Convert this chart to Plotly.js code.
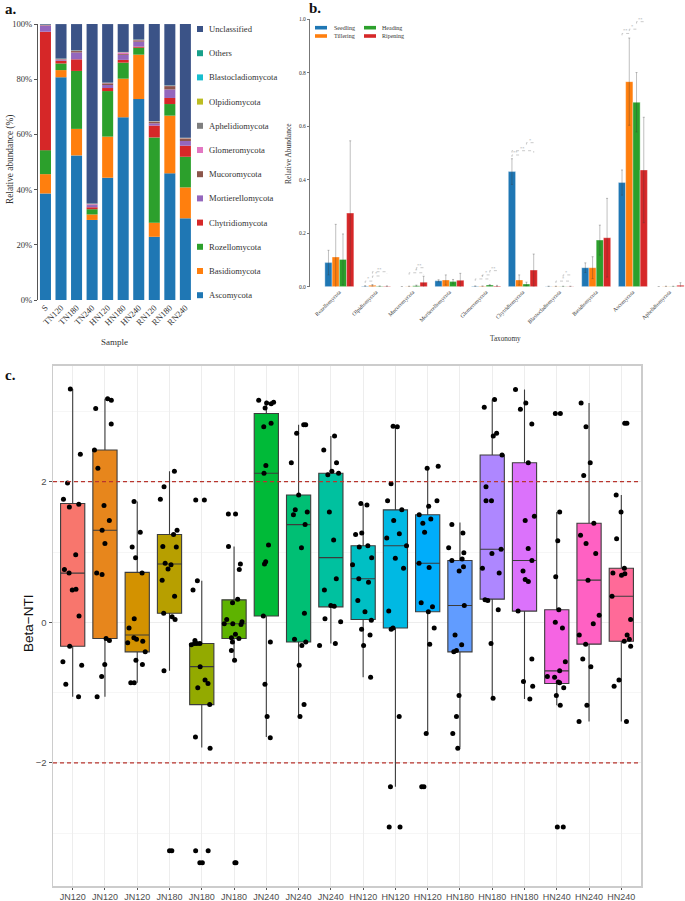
<!DOCTYPE html>
<html><head><meta charset="utf-8">
<script src="https://cdn.plot.ly/plotly-3.0.1.min.js"></script>
<style>html,body{margin:0;padding:0;background:#fff}#chart{width:685px;height:901px}</style>
</head><body><div id="chart"></div>
<script>
// ---------- Panel a: relative abundance (%) ----------
const samples = ['S','TN120','TN180','TN240','HN120','HN180','HN240','RN120','RN180','RN240'];
const phyla = ['Ascomycota','Basidiomycota','Rozellomycota','Chytridiomycota','Mortierellomycota','Mucoromycota','Glomeromycota','Aphelidiomycota','Olpidiomycota','Blastocladiomycota','Others','Unclassified'];
const ascomycota        = [38.6,80.7,52.4,29.0,44.3,66.2,72.8,22.9,45.9,29.6];
const basidiomycota     = [7.0,2.6,9.6,2.0,14.9,14.0,16.1,5.1,20.9,11.2];
const rozellomycota     = [8.7,2.4,21.0,1.9,16.5,5.8,2.5,30.9,4.2,11.1];
const chytridiomycota   = [42.9,1.0,4.2,0.7,1.1,1.0,0.4,4.3,2.2,4.0];
const mortierellomycota = [2.1,0.3,2.5,0.8,1.1,1.8,1.8,0.8,3.1,1.7];
const mucoromycota      = [0.2,0.2,0.5,0.2,0.6,0.3,0.5,0.6,1.2,0.9];
const glomeromycota     = [0.1,0.1,0.1,0.2,0.1,0.6,0.1,0.1,0.1,0.1];
const aphelidiomycota   = [0.05,0.05,0.05,0.05,0.05,0.05,0.05,0.05,0.05,0.05];
const olpidiomycota     = [0.05,0.05,0.05,0.05,0.05,0.05,0.05,0.05,0.05,0.05];
const blastocladiomycota= [0.02,0.02,0.02,0.02,0.02,0.02,0.02,0.02,0.02,0.02];
const others            = [0.05,0.05,0.05,0.05,0.05,0.05,0.05,0.05,0.05,0.05];
const unclassified      = [0.3,12.5,9.5,65.0,21.2,10.1,5.6,35.1,22.2,41.2];
const pctTicks = [0,20,40,60,80,100];
const pctTickText = ['0%','20%','40%','60%','80%','100%'];

// ---------- Panel b: relative abundance by stage ----------
const taxa = ['Rozellomycota','Olpidiomycota','Mucoromycota','Mortierellomycota','Glomeromycota','Chytridiomycota','Blastocladiomycota','Basidiomycota','Ascomycota','Aphelidiomycota'];
const stages = ['Seedling','Tillering','Heading','Ripening'];
const seedling    = [0.090,0.002,0.000,0.022,0.002,0.430,0.001,0.071,0.389,0.000];
const seedlingSd  = [0.046,0.002,0.000,0.004,0.001,0.048,0.001,0.018,0.047,0.000];
const tillering   = [0.111,0.005,0.001,0.025,0.002,0.025,0.001,0.071,0.766,0.001];
const tilleringSd = [0.122,0.003,0.001,0.019,0.001,0.019,0.001,0.041,0.163,0.001];
const heading     = [0.102,0.002,0.004,0.019,0.006,0.010,0.001,0.174,0.689,0.001];
const headingSd   = [0.095,0.001,0.002,0.008,0.002,0.007,0.001,0.056,0.111,0.001];
const ripening    = [0.275,0.002,0.017,0.024,0.003,0.062,0.001,0.183,0.436,0.005];
const ripeningSd  = [0.270,0.001,0.022,0.026,0.002,0.060,0.001,0.147,0.197,0.010];
// significance brackets (taxon index, from stage, to stage, height, label)
const sigTaxon = [1,1,1,2,2,4,4,4,5,5,5,6,6,8,8,8];
const sigFrom  = [0,1,1,1,2,0,1,2,0,0,2,1,2,0,1,2];
const sigTo    = [1,2,3,3,3,2,2,3,1,3,3,3,3,1,2,3];
const sigY     = [0.021,0.040,0.056,0.052,0.071,0.029,0.044,0.060,0.492,0.508,0.538,0.021,0.044,0.946,0.962,0.990];
const sigLabel = ['*','*','**','*','**','*','*','**','**','**','*','*','*','**','*','**'];

// ---------- Panel c: Beta-NTI ----------
const groupLabels = ['JN120','JN120','JN120','JN180','JN180','JN180','JN240','JN240','JN240','HN120','HN120','HN120','HN180','HN180','HN180','HN240','HN240','HN240'];
const q1Vals      = [-0.34,-0.23,-0.42,0.13,-1.17,-0.23,0.09,-0.28,0.22,0.04,-0.08,0.15,-0.42,0.33,0.16,-0.87,-0.31,-0.27];
const medianVals  = [0.70,1.31,-0.18,0.83,-0.63,-0.02,2.12,1.39,0.92,0.62,1.09,0.84,0.24,1.04,0.88,-0.69,0.60,0.37];
const q3Vals      = [1.69,2.45,0.71,1.25,-0.30,0.32,2.97,1.81,2.12,1.09,1.60,1.53,0.88,2.38,2.27,0.18,1.41,0.77];
const lowerWhisk  = [-1.06,-1.06,-0.86,-0.69,-1.78,-0.54,-1.63,-1.34,-0.30,-0.78,-2.34,-1.58,-1.78,-1.08,-1.09,-1.18,-1.41,-1.41];
const upperWhisk  = [3.32,3.18,1.72,2.15,0.59,1.08,3.15,2.81,2.65,1.68,2.78,2.21,1.42,3.17,3.31,1.57,3.12,1.81];
const bnti01 = [3.32,2.39,1.98,1.75,1.68,1.64,0.96,0.75,0.70,0.47,0.46,0.09,-0.34,-0.56,-0.61,-0.88,-1.06];
const bnti02 = [3.18,3.16,3.04,2.82,2.45,2.19,1.66,1.45,1.31,1.12,0.70,0.68,-0.23,-0.26,-0.60,-0.77,-1.06];
const bnti03 = [1.72,1.28,1.07,0.92,0.70,0.05,-0.08,-0.22,-0.24,-0.27,-0.29,-0.42,-0.54,-0.60,-0.86,-0.86];
const bnti04 = [2.15,1.93,1.75,1.31,1.25,1.08,1.07,0.84,0.82,0.76,0.60,0.37,0.13,0.08,0.04,-0.69,-3.25,-3.25];
const bnti05 = [1.74,1.74,0.59,0.46,-0.26,-0.30,-0.30,-0.30,-0.32,-0.63,-0.82,-0.87,-0.93,-1.17,-1.63,-1.79,-3.25,-3.25,-3.42,-3.42];
const bnti06 = [1.54,1.54,1.08,0.83,0.75,0.33,0.28,0.04,0.01,-0.02,-0.02,-0.03,-0.17,-0.22,-0.23,-0.28,-0.40,-0.54,-3.42,-3.42];
const bnti07 = [3.16,3.13,3.12,3.11,3.05,2.83,2.78,2.23,2.12,1.10,0.86,0.83,0.09,-0.28,-0.88,-1.34,-1.64];
const bnti08 = [2.81,2.81,2.69,2.27,1.81,1.60,1.57,1.53,1.39,1.06,0.13,-0.24,-0.28,-0.33,-0.61,-1.17,-1.34];
const bnti09 = [2.65,2.45,2.27,2.15,2.12,2.10,1.57,1.17,0.62,0.46,0.24,0.23,0.05,0.01,-0.30,-0.33];
const bnti10 = [1.69,1.67,1.27,1.25,1.09,1.07,0.92,0.82,0.62,0.57,0.31,0.15,0.03,-0.10,-0.18,-0.33,-0.78];
const bnti11 = [2.79,2.78,1.97,1.73,1.60,1.45,1.26,1.20,1.09,0.91,0.77,0.16,-0.08,-0.10,-1.34,-2.34,-2.91,-2.91];
const bnti12 = [2.22,2.19,1.73,1.65,1.53,1.47,1.41,1.28,0.84,0.78,0.28,0.22,0.15,-0.08,-0.31,-1.58,-2.34,-2.34];
const bnti13 = [1.39,1.27,1.06,0.99,0.90,0.88,0.79,0.73,0.24,-0.18,-0.32,-0.40,-0.42,-1.04,-1.34,-1.58,-1.79];
const bnti14 = [3.17,3.06,2.69,2.65,2.38,1.93,1.73,1.73,1.04,0.98,0.77,0.70,0.32,0.31,0.18,-0.30,-1.08];
const bnti15 = [3.31,3.12,3.03,2.82,2.27,1.51,1.45,1.05,0.88,0.73,0.61,0.58,0.16,-0.52,-0.84,-0.91,-1.09];
const bnti16 = [2.97,2.97,1.57,1.16,0.65,0.18,0.00,-0.08,-0.56,-0.69,-0.77,-0.78,-0.85,-0.86,-0.93,-1.04,-1.18,-2.91,-2.91];
const bnti17 = [3.12,2.78,2.27,2.09,1.41,1.24,1.12,0.98,0.60,0.10,-0.02,-0.18,-0.31,-0.52,-0.63,-1.18,-1.41];
const bnti18 = [2.83,2.83,1.81,1.57,1.19,0.77,0.70,0.69,0.67,0.37,0.04,-0.18,-0.24,-0.27,-0.34,-0.82,-0.91,-1.41];
const bntiGroups = [bnti01,bnti02,bnti03,bnti04,bnti05,bnti06,bnti07,bnti08,bnti09,bnti10,bnti11,bnti12,bnti13,bnti14,bnti15,bnti16,bnti17,bnti18];

// ---------- styles ----------
const W = 685, H = 901;
const px = x => x / W, py = y => 1 - y / H;
const serif = 'Liberation Serif, Times New Roman, serif';
const sans = 'Liberation Sans, Arial, sans-serif';
const phylaColors = ['#1f77b4','#ff7f0e','#2ca02c','#d62728','#9467bd','#8c564b','#e377c2','#7f7f7f','#bcbd22','#17becf','#17a08a','#3b5387'];
const stageColors = ['#1f77b4','#ff7f0e','#2ca02c','#d62728'];
const boxColors = ['#F8766D','#E7861C','#D39200','#B79F00','#93AA00','#5EB300','#00BA38','#00BF74','#00C19F','#00BFC4','#00B9E3','#00ADFA','#619CFF','#AE87FF','#DB72FB','#F564E3','#FF61C3','#FF6A98'];

const traces = [];
const shapes = [];
const annotations = [];

// Panel a stacked bars
const phylaValues = [ascomycota,basidiomycota,rozellomycota,chytridiomycota,mortierellomycota,mucoromycota,glomeromycota,aphelidiomycota,olpidiomycota,blastocladiomycota,others,unclassified];
const cum = samples.map(() => 0);
phylaValues.forEach((vals, k) => {
  traces.push({type:'bar', name: phyla[k], x: samples, y: vals, base: cum.slice(),
    xaxis:'x', yaxis:'y', width:0.71, offset:-0.355,
    marker:{color: phylaColors[k], line:{width:0}}, showlegend:false, hoverinfo:'skip'});
  vals.forEach((v,i) => { cum[i] += v; });
});
// panel a legend (manual)
for (let k = 0; k < phyla.length; k++) {
  const idx = phyla.length - 1 - k;
  const cy = 29 + 24.2 * k;
  shapes.push({type:'rect', xref:'paper', yref:'paper', x0:px(197), x1:px(203), y0:py(cy+3), y1:py(cy-3), fillcolor: phylaColors[idx], line:{width:0}});
  annotations.push({xref:'paper', yref:'paper', x:px(207), y:py(cy), xanchor:'left', yanchor:'middle', showarrow:false, text: phyla[idx], font:{family:serif, size:8.6, color:'#333'}});
}

// Panel b grouped bars
const stageVals = [seedling, tillering, heading, ripening];
const stageSds = [seedlingSd, tilleringSd, headingSd, ripeningSd];
stageVals.forEach((vals, k) => {
  traces.push({type:'bar', name: stages[k], x: taxa, y: vals, xaxis:'x2', yaxis:'y2',
    marker:{color: stageColors[k], line:{color:'rgba(255,255,255,0.6)', width:0.6}},
    error_y:{type:'data', array: stageSds[k], color:'rgba(60,60,60,0.32)', thickness:1, width:1},
    showlegend:false, hoverinfo:'skip'});
});
const bargapB = 0.21, gw = 1 - bargapB;
const barCenter = (t, s) => t - gw/2 + (s + 0.5) * gw / 4;
sigTaxon.forEach((t, i) => {
  const x0 = barCenter(t, sigFrom[i]), x1 = barCenter(t, sigTo[i]), y = sigY[i], tk = 0.007;
  shapes.push({type:'path', xref:'x2', yref:'y2', path:`M${x0},${y-tk} L${x0},${y} L${x1},${y} L${x1},${y-tk}`, line:{color:'#bdbdbd', width:0.8, dash:'dot'}});
  annotations.push({xref:'x2', yref:'y2', x:(x0+x1)/2, y: y, yanchor:'bottom', yshift:-2, showarrow:false, text: sigLabel[i], font:{family:serif, size:4.5, color:'#aaa'}});
});
// panel b legend (manual)
const legB = [[315, 27.7, 331.5], [315, 36, 331.5], [364, 27.7, 380.5], [364, 36, 380.5]];
legB.forEach((p, k) => {
  shapes.push({type:'rect', xref:'paper', yref:'paper', x0:px(p[0]), x1:px(p[0]+12), y0:py(p[1]+1.8), y1:py(p[1]-1.8), fillcolor: stageColors[k], line:{width:0}});
  annotations.push({xref:'paper', yref:'paper', x:px(p[2]), y:py(p[1]), xanchor:'left', yanchor:'middle', showarrow:false, text: stages[k], font:{family:serif, size:6, color:'#333'}});
});

// Panel c boxes
groupLabels.forEach((g, i) => {
  traces.push({type:'box', name: g, x:[i+1], q1:[q1Vals[i]], median:[medianVals[i]], q3:[q3Vals[i]],
    lowerfence:[lowerWhisk[i]], upperfence:[upperWhisk[i]], xaxis:'x3', yaxis:'y3', width:0.75,
    fillcolor: boxColors[i], line:{color:'#3c3c3c', width:1.1}, whiskerwidth:0, boxpoints:false,
    showlegend:false, hoverinfo:'skip'});
});
const ptsX = [], ptsY = [];
bntiGroups.forEach((arr, i) => arr.forEach(v => { ptsX.push(i+1); ptsY.push(v); }));
traces.push({type:'box', x: ptsX, y: ptsY, xaxis:'x3', yaxis:'y3', width:0.75, boxpoints:'all', jitter:1, pointpos:0,
  fillcolor:'rgba(0,0,0,0)', line:{color:'rgba(0,0,0,0)', width:0}, whiskerwidth:0,
  marker:{color:'#000', size:5}, showlegend:false, hoverinfo:'skip'});
[2, -2].forEach(v => shapes.push({type:'line', xref:'x3 domain', x0:0, x1:1, yref:'y3', y0:v, y1:v, line:{color:'#b8352e', width:1.3, dash:'4px,3px'}}));

// titles / panel letters
annotations.push(
  {xref:'paper', yref:'paper', x:px(3), y:py(9), xanchor:'left', yanchor:'middle', showarrow:false, text:'<b>a.</b>', font:{family:serif, size:15, color:'#111'}},
  {xref:'paper', yref:'paper', x:px(307), y:py(8), xanchor:'left', yanchor:'middle', showarrow:false, text:'<b>b.</b>', font:{family:serif, size:15, color:'#111'}},
  {xref:'paper', yref:'paper', x:px(3), y:py(375), xanchor:'left', yanchor:'middle', showarrow:false, text:'<b>c.</b>', font:{family:serif, size:15, color:'#111'}},
  {xref:'paper', yref:'paper', x:px(10), y:py(160), xanchor:'center', yanchor:'middle', textangle:-90, showarrow:false, text:'Relative abundance (%)', font:{family:serif, size:9.3, color:'#333'}},
  {xref:'paper', yref:'paper', x:px(115), y:py(342), xanchor:'center', yanchor:'middle', showarrow:false, text:'Sample', font:{family:serif, size:9, color:'#333'}},
  {xref:'paper', yref:'paper', x:px(289), y:py(154), xanchor:'center', yanchor:'middle', textangle:-90, showarrow:false, text:'Relative Abundance', font:{family:serif, size:7.5, color:'#333'}},
  {xref:'paper', yref:'paper', x:px(505), y:py(339), xanchor:'center', yanchor:'middle', showarrow:false, text:'Taxonomy', font:{family:serif, size:7.2, color:'#333'}},
  {xref:'paper', yref:'paper', x:px(28), y:py(624), xanchor:'center', yanchor:'middle', textangle:-90, showarrow:false, text:'Beta\u2212NTI', font:{family:sans, size:13.5, color:'#111'}}
);

const layout = {
  width: W, height: H, margin:{l:0, r:0, t:0, b:0},
  paper_bgcolor:'#fff', plot_bgcolor:'rgba(0,0,0,0)', showlegend:false,
  barmode:'group', bargap: bargapB, bargroupgap:0, boxmode:'overlay',
  xaxis:{domain:[px(38), px(193)], anchor:'y', type:'category', range:[-0.48, 9.49], tickangle:-45,
    tickfont:{family:serif, size:8.6, color:'#333'}, showline:false, ticks:'', showgrid:false, zeroline:false, fixedrange:true},
  yaxis:{domain:[py(300), py(24)], anchor:'x', range:[0, 100], tickmode:'array', tickvals: pctTicks, ticktext: pctTickText,
    showline:true, linecolor:'#555', linewidth:1, ticks:'outside', ticklen:3, tickcolor:'#555',
    tickfont:{family:serif, size:8.6, color:'#333'}, showgrid:false, zeroline:false},
  xaxis2:{domain:[px(310), 1], anchor:'y2', type:'category', range:[-0.8, 9.42], tickangle:-45,
    tickfont:{family:serif, size:5.6, color:'#333'}, showline:false, ticks:'', showgrid:false, zeroline:false},
  yaxis2:{domain:[py(286.7), py(19)], anchor:'x2', range:[0, 1], dtick:0.2, tickformat:'.1f',
    showline:true, linecolor:'#777', linewidth:1, ticks:'outside', ticklen:2, tickcolor:'#777',
    tickfont:{family:serif, size:5.6, color:'#333'}, showgrid:false, zeroline:false},
  xaxis3:{domain:[px(53), px(641)], anchor:'y3', range:[0.39, 18.61], tickmode:'array',
    tickvals: groupLabels.map((g,i) => i+1), ticktext: groupLabels,
    showgrid:true, gridcolor:'#ededed', gridwidth:1, ticks:'outside', ticklen:2, tickcolor:'#555',
    showline:true, mirror:true, linecolor:'#cccccc', linewidth:1.5, zeroline:false,
    tickfont:{family:sans, size:9, color:'#4d4d4d'}},
  yaxis3:{domain:[py(886), py(365.7)], anchor:'x3', range:[-3.75, 3.65], tickmode:'linear', tick0:0, dtick:2,
    showgrid:true, gridcolor:'#ededed', gridwidth:1, ticks:'outside', ticklen:3, tickcolor:'#555',
    minor:{tickmode:'linear', tick0:1, dtick:2, showgrid:true, gridcolor:'#f6f6f6', ticks:''},
    showline:true, mirror:true, linecolor:'#cccccc', linewidth:1.5, zeroline:false,
    tickfont:{family:sans, size:9.5, color:'#4d4d4d'}},
  shapes: shapes,
  annotations: annotations
};

Plotly.newPlot('chart', traces, layout, {staticPlot:true, displayModeBar:false});
</script></body></html>
